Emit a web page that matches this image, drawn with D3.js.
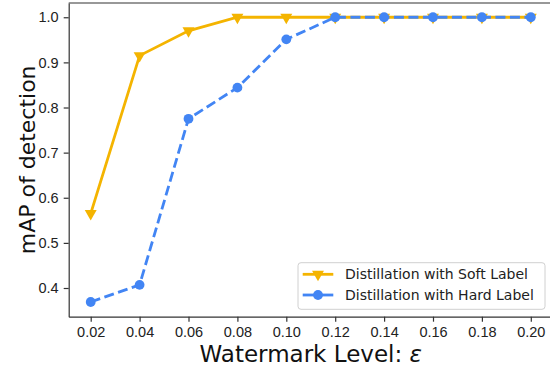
<!DOCTYPE html>
<html>
<head>
<meta charset="utf-8">
<script src="https://cdn.jsdelivr.net/npm/d3@7"></script>
<style>
  body { margin: 0; background: #fff; }
  svg { display: block; font-family: "DejaVu Sans", sans-serif; }
  .axis path, .axis line { stroke: #333; stroke-width: 1.2; }
  .axis text { fill: #222; font-size: 14.5px; }
</style>
</head>
<body>
<svg id="chart"></svg>
<script>
// Watermark levels (x) and detection mAP for the two distillation settings
const levels = [0.02, 0.04, 0.06, 0.08, 0.10, 0.12, 0.14, 0.16, 0.18, 0.20];
const softLabel = [0.565, 0.915, 0.97, 1.0, 1.0, 1.0, 1.0, 1.0, 1.0, 1.0];
const hardLabel = [0.369, 0.407, 0.775, 0.844, 0.951, 1.0, 1.0, 1.0, 1.0, 1.0];
const yTicks = [0.4, 0.5, 0.6, 0.7, 0.8, 0.9, 1.0];
const seriesNames = ['Distillation with Soft Label', 'Distillation with Hard Label'];

const width = 550, height = 369;
const margin = {top: 3, left: 68.7, bottom: 52.3};
const plotRight = 552.8;   // right spine falls just outside the picture

const svg = d3.select('#chart')
    .attr('width', width)
    .attr('height', height);

// matplotlib-style 5% margins around the data
const xScale = d3.scaleLinear()
    .domain([0.011, 0.209])
    .range([margin.left, plotRight]);

const yScale = d3.scaleLinear()
    .domain([0.3364, 1.0316])
    .range([height - margin.bottom, margin.top]);

const xAxis = d3.axisBottom(xScale)
    .tickValues(levels)
    .tickFormat(d3.format('.2f'))
    .tickSize(5)
    .tickPadding(5)
    .tickSizeOuter(0);

const yAxis = d3.axisLeft(yScale)
    .tickValues(yTicks)
    .tickFormat(d3.format('.1f'))
    .tickSize(5)
    .tickPadding(5)
    .tickSizeOuter(0);

svg.append('g')
    .attr('class', 'axis x-axis')
    .attr('transform', `translate(0,${height - margin.bottom})`)
    .call(xAxis);

svg.append('g')
    .attr('class', 'axis y-axis')
    .attr('transform', `translate(${margin.left},0)`)
    .call(yAxis);

// top spine
svg.append('line')
    .attr('x1', margin.left).attr('x2', plotRight)
    .attr('y1', yScale.range()[1]).attr('y2', yScale.range()[1])
    .attr('stroke', '#333').attr('stroke-width', 1.2);

const softColor = '#F4B400';
const hardColor = '#4285F4';

const line = d3.line()
    .x((d, i) => xScale(levels[i]))
    .y(d => yScale(d));

const triangle = d3.symbol().type(d3.symbolTriangle).size(62);

// soft label series: solid line, downward triangles
svg.append('path')
    .datum(softLabel)
    .attr('fill', 'none')
    .attr('stroke', softColor)
    .attr('stroke-width', 2.8)
    .attr('d', line);

svg.selectAll('.soft-marker')
    .data(softLabel)
  .join('path')
    .attr('class', 'soft-marker')
    .attr('d', triangle)
    .attr('fill', softColor)
    .attr('transform', (d, i) => `translate(${xScale(levels[i])},${yScale(d)}) rotate(180)`);

// hard label series: dashed line, circles
svg.append('path')
    .datum(hardLabel)
    .attr('fill', 'none')
    .attr('stroke', hardColor)
    .attr('stroke-width', 2.8)
    .attr('stroke-dasharray', '10,4.5')
    .attr('d', line);

svg.selectAll('.hard-marker')
    .data(hardLabel)
  .join('circle')
    .attr('class', 'hard-marker')
    .attr('cx', (d, i) => xScale(levels[i]))
    .attr('cy', d => yScale(d))
    .attr('r', 4.9)
    .attr('fill', hardColor);

// axis titles
svg.append('text')
    .attr('x', (margin.left + plotRight) / 2)
    .attr('y', 361.5)
    .attr('text-anchor', 'middle')
    .style('font-size', '23px')
    .attr('fill', '#111')
    .text('Watermark Level: ')
  .append('tspan')
    .style('font-style', 'italic')
    .text('ε');

svg.append('text')
    .attr('transform', `translate(35,${(margin.top + height - margin.bottom) / 2}) rotate(-90)`)
    .attr('text-anchor', 'middle')
    .style('font-size', '22px')
    .attr('fill', '#111')
    .text('mAP of detection');

// legend
const legend = svg.append('g').attr('transform', 'translate(298,262.7)');
legend.append('rect')
    .attr('width', 247)
    .attr('height', 46.6)
    .attr('rx', 3)
    .attr('fill', '#fff')
    .attr('fill-opacity', 0.8)
    .attr('stroke', '#d0d0d0')
    .attr('stroke-width', 1);

const rows = [
  {name: seriesNames[0], color: softColor, y: 11.6, marker: 'tri'},
  {name: seriesNames[1], color: hardColor, y: 32.3, marker: 'dot'}
];

rows.forEach(r => {
  const g = legend.append('g').attr('transform', `translate(0,${r.y})`);
  g.append('line')
      .attr('x1', 4.7).attr('x2', 35.3)
      .attr('stroke', r.color).attr('stroke-width', 2.8);
  if (r.marker === 'tri') {
    g.append('path')
        .attr('d', triangle)
        .attr('fill', r.color)
        .attr('transform', 'translate(20,0) rotate(180)');
  } else {
    g.append('circle').attr('cx', 20).attr('r', 4.9).attr('fill', r.color);
  }
  g.append('text')
      .attr('x', 47)
      .attr('dy', '0.36em')
      .style('font-size', '14px')
      .attr('fill', '#222')
      .text(r.name);
});
</script>
</body>
</html>
